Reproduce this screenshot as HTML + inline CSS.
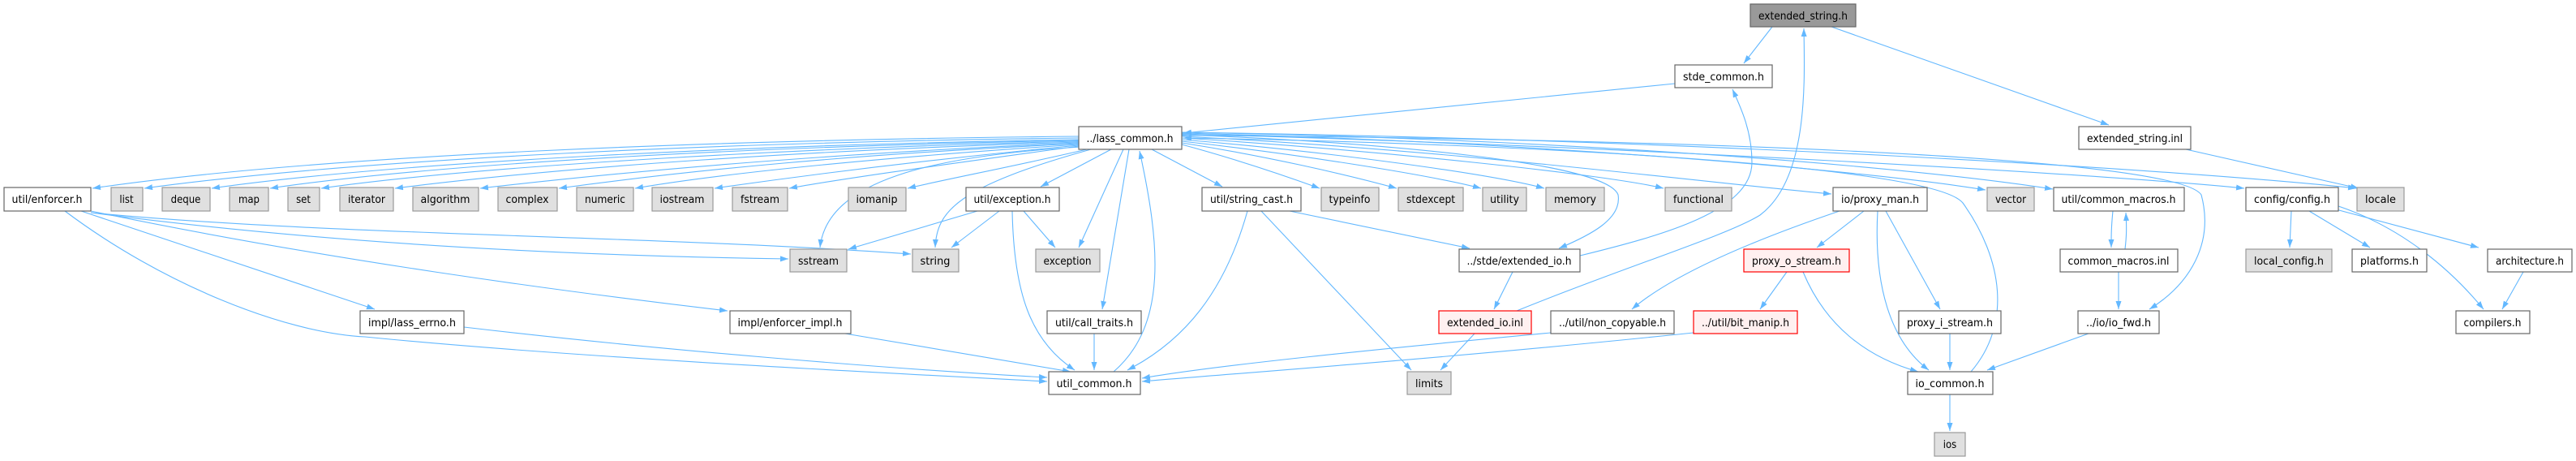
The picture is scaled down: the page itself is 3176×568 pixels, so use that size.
<!DOCTYPE html>
<html><head><meta charset="utf-8"><style>
html,body{margin:0;padding:0;background:#fff;}
svg{display:block;}
text{font-family:"DejaVu Sans Condensed","DejaVu Sans","Liberation Sans",sans-serif;font-size:13px;fill:#000;}
.e{fill:none;stroke:#63b8ff;stroke-width:1.1;marker-end:url(#a);}
.n{fill:#fff;stroke:#666;stroke-width:1.2;}
.g{fill:#e0e0e0;stroke:#999;stroke-width:1.2;}
.r{fill:#fff0f0;stroke:#f00;stroke-width:1.2;}
.k{fill:#999;stroke:#666;stroke-width:1.2;}
</style></head><body>
<svg width="3176" height="568" viewBox="0 0 3176 568" xmlns="http://www.w3.org/2000/svg">
<defs><marker id="a" markerUnits="userSpaceOnUse" markerWidth="11" markerHeight="8" refX="10" refY="3.5" orient="auto"><path d="M0,0 L10,3.5 L0,7 z" fill="#63b8ff"/></marker></defs>
<g>
<path class="e" d="M2185,33 L2150,78"/>
<path class="e" d="M2258,33 L2600,154"/>
<path class="e" d="M2065,103 L1459,164"/>
<path class="e" d="M1330,168 C900,172 400,190 114,232"/>
<path class="e" d="M1330,170 C900,175 450,195 178,232"/>
<path class="e" d="M1330,172 C950,178 500,198 261,232"/>
<path class="e" d="M1330,173 C950,180 550,200 333,232"/>
<path class="e" d="M1330,174 C1000,182 600,203 396,232"/>
<path class="e" d="M1330,175 C1000,185 700,205 487,232"/>
<path class="e" d="M1330,176 C1050,188 800,208 592,232"/>
<path class="e" d="M1330,177 C1050,190 850,210 689,232"/>
<path class="e" d="M1330,178 C1100,193 900,212 783,232"/>
<path class="e" d="M1330,179 C1150,196 1000,215 881,232"/>
<path class="e" d="M1330,180 C1200,198 1050,218 973,232"/>
<path class="e" d="M1340,184 C1250,205 1170,220 1119,232"/>
<path class="e" d="M1370,184 L1283,230"/>
<path class="e" d="M1333,181 C1150,192 1020,222 1011,305"/>
<path class="e" d="M1345,184 C1180,230 1155,260 1153,305"/>
<path class="e" d="M1385,184 L1330,305"/>
<path class="e" d="M1392,184 L1359,381"/>
<path class="e" d="M1373,458 C1440,400 1430,300 1405,186"/>
<path class="e" d="M1420,184 L1507,230"/>
<path class="e" d="M1457,178 C1520,195 1580,215 1627,232"/>
<path class="e" d="M1457,176 C1560,192 1660,215 1722,232"/>
<path class="e" d="M1457,174 C1600,190 1760,215 1826,232"/>
<path class="e" d="M1457,172 C1650,188 1840,215 1904,232"/>
<path class="e" d="M1457,170 C1700,185 1980,215 2051,232"/>
<path class="e" d="M1457,168 C1800,185 2100,225 2258,239"/>
<path class="e" d="M1457,166 C1700,175 1980,200 1995,240 C2000,270 1960,290 1922,306"/>
<path class="e" d="M1457,164 C1900,175 2300,210 2448,234"/>
<path class="e" d="M1457,163 C1950,172 2350,205 2531,233"/>
<path class="e" d="M2430,458 C2480,400 2470,320 2420,250 C2380,200 1800,175 1459,170"/>
<path class="e" d="M1457,167 C2000,170 2680,190 2714,240 C2730,300 2700,350 2650,381"/>
<path class="e" d="M1457,165 C2000,180 2600,215 2767,232"/>
<path class="e" d="M1457,163 C2100,172 2700,210 2905,232"/>
<path class="e" d="M2695,184 L2908,232"/>
<path class="e" d="M1205,260 L1046,307"/>
<path class="e" d="M1232,260 L1173,305"/>
<path class="e" d="M1262,260 L1301,305"/>
<path class="e" d="M1248,260 C1250,360 1270,420 1325,456"/>
<path class="e" d="M1590,260 L1812,306"/>
<path class="e" d="M1555,260 L1740,456"/>
<path class="e" d="M1538,260 C1510,360 1460,420 1390,456"/>
<path class="e" d="M112,262 C400,300 700,315 972,319"/>
<path class="e" d="M112,262 C400,290 800,290 1123,313"/>
<path class="e" d="M100,260 L462,381"/>
<path class="e" d="M112,260 C400,320 700,360 897,383"/>
<path class="e" d="M80,260 C200,350 350,410 450,415 C700,440 1100,460 1291,470"/>
<path class="e" d="M572,403 C800,430 1100,455 1291,465"/>
<path class="e" d="M1042,411 L1320,458"/>
<path class="e" d="M1349,411 L1349,456"/>
<path class="e" d="M1948,315 C2050,290 2160,260 2160,200 C2160,160 2145,130 2136,110"/>
<path class="e" d="M1865,335 L1842,381"/>
<path class="e" d="M1870,383 C2000,330 2130,290 2170,265 C2230,220 2225,100 2224,35"/>
<path class="e" d="M1818,411 L1776,456"/>
<path class="e" d="M1912,410 C1700,430 1500,450 1408,466"/>
<path class="e" d="M2088,410 C1800,440 1550,458 1408,470"/>
<path class="e" d="M2268,260 C2150,300 2060,340 2012,381"/>
<path class="e" d="M2298,260 L2240,305"/>
<path class="e" d="M2315,260 C2310,350 2330,420 2378,456"/>
<path class="e" d="M2325,260 L2392,381"/>
<path class="e" d="M2203,335 L2170,381"/>
<path class="e" d="M2223,335 C2250,400 2300,440 2365,458"/>
<path class="e" d="M2404,411 L2404,456"/>
<path class="e" d="M2404,486 L2404,531"/>
<path class="e" d="M2575,411 L2450,456"/>
<path class="e" d="M2605,260 C2603,280 2603,290 2603,305"/>
<path class="e" d="M2620,307 C2622,290 2622,280 2621,262"/>
<path class="e" d="M2612,335 L2612,381"/>
<path class="e" d="M2825,260 L2823,305"/>
<path class="e" d="M2847,260 L2922,305"/>
<path class="e" d="M2880,258 L3056,305"/>
<path class="e" d="M2883,254 C2960,280 3020,330 3062,381"/>
<path class="e" d="M3111,335 L3085,381"/>
</g>
<g text-anchor="middle">
<rect class="k" x="2158" y="5" width="130" height="28"/><text x="2223" y="24" textLength="110" lengthAdjust="spacingAndGlyphs">extended_string.h</text>
<rect class="n" x="2065" y="80" width="120" height="28"/><text x="2125" y="99" textLength="100" lengthAdjust="spacingAndGlyphs">stde_common.h</text>
<rect class="n" x="1330" y="156" width="127" height="28"/><text x="1393" y="175" textLength="107" lengthAdjust="spacingAndGlyphs">../lass_common.h</text>
<rect class="n" x="2563" y="156" width="138" height="28"/><text x="2632" y="175" textLength="118" lengthAdjust="spacingAndGlyphs">extended_string.inl</text>
<rect class="n" x="5" y="231" width="107" height="29"/><text x="58" y="250" textLength="87" lengthAdjust="spacingAndGlyphs">util/enforcer.h</text>
<rect class="g" x="137" y="231" width="39" height="29"/><text x="156" y="250">list</text>
<rect class="g" x="200" y="231" width="59" height="29"/><text x="229" y="250">deque</text>
<rect class="g" x="283" y="231" width="48" height="29"/><text x="307" y="250">map</text>
<rect class="g" x="355" y="231" width="39" height="29"/><text x="374" y="250">set</text>
<rect class="g" x="419" y="231" width="66" height="29"/><text x="452" y="250" textLength="46" lengthAdjust="spacingAndGlyphs">iterator</text>
<rect class="g" x="509" y="231" width="81" height="29"/><text x="549" y="250" textLength="61" lengthAdjust="spacingAndGlyphs">algorithm</text>
<rect class="g" x="614" y="231" width="73" height="29"/><text x="650" y="250" textLength="53" lengthAdjust="spacingAndGlyphs">complex</text>
<rect class="g" x="711" y="231" width="70" height="29"/><text x="746" y="250" textLength="50" lengthAdjust="spacingAndGlyphs">numeric</text>
<rect class="g" x="804" y="231" width="75" height="29"/><text x="841" y="250" textLength="55" lengthAdjust="spacingAndGlyphs">iostream</text>
<rect class="g" x="903" y="231" width="68" height="29"/><text x="937" y="250" textLength="48" lengthAdjust="spacingAndGlyphs">fstream</text>
<rect class="g" x="1046" y="231" width="71" height="29"/><text x="1081" y="250" textLength="51" lengthAdjust="spacingAndGlyphs">iomanip</text>
<rect class="n" x="1191" y="231" width="115" height="29"/><text x="1248" y="250" textLength="95" lengthAdjust="spacingAndGlyphs">util/exception.h</text>
<rect class="n" x="1482" y="231" width="122" height="29"/><text x="1543" y="250" textLength="102" lengthAdjust="spacingAndGlyphs">util/string_cast.h</text>
<rect class="g" x="1629" y="231" width="71" height="29"/><text x="1664" y="250" textLength="51" lengthAdjust="spacingAndGlyphs">typeinfo</text>
<rect class="g" x="1724" y="231" width="80" height="29"/><text x="1764" y="250" textLength="60" lengthAdjust="spacingAndGlyphs">stdexcept</text>
<rect class="g" x="1828" y="231" width="54" height="29"/><text x="1855" y="250" textLength="36" lengthAdjust="spacingAndGlyphs">utility</text>
<rect class="g" x="1906" y="231" width="72" height="29"/><text x="1942" y="250" textLength="52" lengthAdjust="spacingAndGlyphs">memory</text>
<rect class="g" x="2053" y="231" width="82" height="29"/><text x="2094" y="250" textLength="62" lengthAdjust="spacingAndGlyphs">functional</text>
<rect class="n" x="2260" y="231" width="116" height="29"/><text x="2318" y="250" textLength="96" lengthAdjust="spacingAndGlyphs">io/proxy_man.h</text>
<rect class="g" x="2450" y="231" width="58" height="29"/><text x="2479" y="250" textLength="38" lengthAdjust="spacingAndGlyphs">vector</text>
<rect class="n" x="2532" y="231" width="161" height="29"/><text x="2612" y="250" textLength="141" lengthAdjust="spacingAndGlyphs">util/common_macros.h</text>
<rect class="n" x="2769" y="231" width="114" height="29"/><text x="2826" y="250" textLength="94" lengthAdjust="spacingAndGlyphs">config/config.h</text>
<rect class="g" x="2906" y="231" width="58" height="29"/><text x="2935" y="250" textLength="38" lengthAdjust="spacingAndGlyphs">locale</text>
<rect class="g" x="974" y="307" width="70" height="28"/><text x="1009" y="326" textLength="50" lengthAdjust="spacingAndGlyphs">sstream</text>
<rect class="g" x="1125" y="307" width="57" height="28"/><text x="1153" y="326" textLength="37" lengthAdjust="spacingAndGlyphs">string</text>
<rect class="g" x="1277" y="307" width="79" height="28"/><text x="1316" y="326" textLength="59" lengthAdjust="spacingAndGlyphs">exception</text>
<rect class="n" x="1799" y="307" width="149" height="28"/><text x="1873" y="326" textLength="129" lengthAdjust="spacingAndGlyphs">../stde/extended_io.h</text>
<rect class="r" x="2150" y="307" width="130" height="28"/><text x="2215" y="326" textLength="110" lengthAdjust="spacingAndGlyphs">proxy_o_stream.h</text>
<rect class="n" x="2540" y="307" width="145" height="28"/><text x="2612" y="326" textLength="125" lengthAdjust="spacingAndGlyphs">common_macros.inl</text>
<rect class="g" x="2769" y="307" width="106" height="28"/><text x="2822" y="326" textLength="86" lengthAdjust="spacingAndGlyphs">local_config.h</text>
<rect class="n" x="2900" y="307" width="92" height="28"/><text x="2946" y="326" textLength="72" lengthAdjust="spacingAndGlyphs">platforms.h</text>
<rect class="n" x="3067" y="307" width="104" height="28"/><text x="3119" y="326" textLength="84" lengthAdjust="spacingAndGlyphs">architecture.h</text>
<rect class="n" x="444" y="383" width="128" height="28"/><text x="508" y="402" textLength="108" lengthAdjust="spacingAndGlyphs">impl/lass_errno.h</text>
<rect class="n" x="900" y="383" width="149" height="28"/><text x="974" y="402" textLength="129" lengthAdjust="spacingAndGlyphs">impl/enforcer_impl.h</text>
<rect class="n" x="1291" y="383" width="116" height="28"/><text x="1349" y="402" textLength="96" lengthAdjust="spacingAndGlyphs">util/call_traits.h</text>
<rect class="r" x="1774" y="383" width="114" height="28"/><text x="1831" y="402" textLength="94" lengthAdjust="spacingAndGlyphs">extended_io.inl</text>
<rect class="n" x="1912" y="383" width="152" height="28"/><text x="1988" y="402" textLength="132" lengthAdjust="spacingAndGlyphs">../util/non_copyable.h</text>
<rect class="r" x="2088" y="383" width="128" height="28"/><text x="2152" y="402" textLength="108" lengthAdjust="spacingAndGlyphs">../util/bit_manip.h</text>
<rect class="n" x="2341" y="383" width="126" height="28"/><text x="2404" y="402" textLength="106" lengthAdjust="spacingAndGlyphs">proxy_i_stream.h</text>
<rect class="n" x="2562" y="383" width="100" height="28"/><text x="2612" y="402" textLength="80" lengthAdjust="spacingAndGlyphs">../io/io_fwd.h</text>
<rect class="n" x="3028" y="383" width="91" height="28"/><text x="3073" y="402" textLength="71" lengthAdjust="spacingAndGlyphs">compilers.h</text>
<rect class="n" x="1293" y="458" width="113" height="28"/><text x="1349" y="477" textLength="93" lengthAdjust="spacingAndGlyphs">util_common.h</text>
<rect class="g" x="1735" y="458" width="54" height="28"/><text x="1762" y="477" textLength="34" lengthAdjust="spacingAndGlyphs">limits</text>
<rect class="n" x="2352" y="458" width="105" height="28"/><text x="2404" y="477" textLength="85" lengthAdjust="spacingAndGlyphs">io_common.h</text>
<rect class="g" x="2385" y="533" width="38" height="29"/><text x="2404" y="552">ios</text>
</g>
</svg>
</body></html>
